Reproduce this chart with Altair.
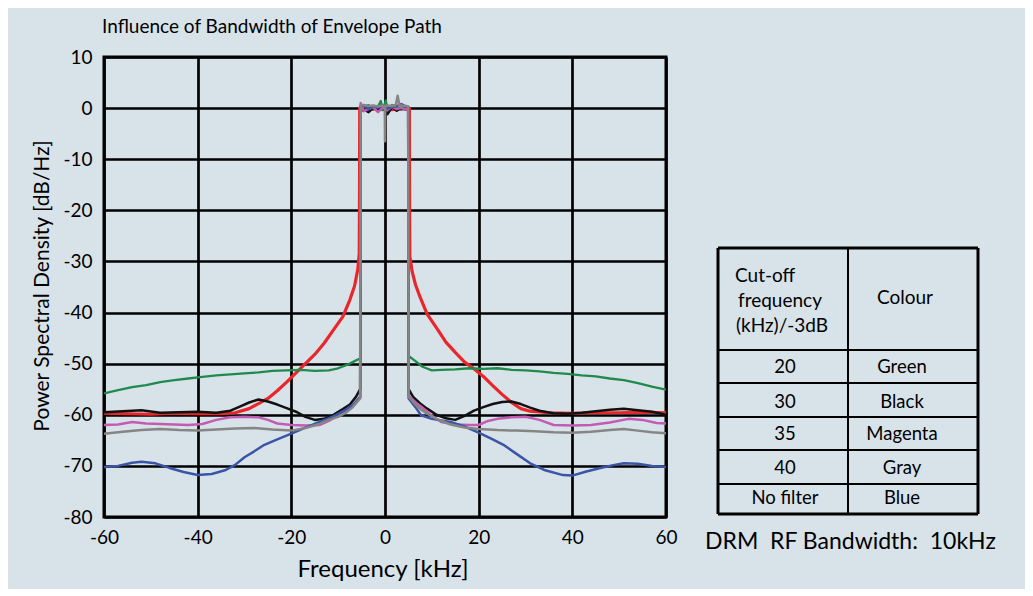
import altair as alt
import pandas as pd

# ---------------- data ----------------
red_f = [-60, -55, -50, -45, -40, -35, -32, -29, -27, -25, -23, -21, -19, -17, -15, -13, -11, -9, -7.5, -6.5, -5.8, -5.5, -5.45,
         -5.4, -4.5, -3.5, -2.5, -1.5, -0.5, 0.5, 1.5, 2.5, 3.5, 4.5, 5.2,
         5.25, 5.3, 5.8, 6.5, 7.5, 9, 11, 13, 15, 17, 19, 21, 23, 25, 27, 29, 31, 35, 40, 45, 50, 55, 60]
red_p = [-59.7, -59.8, -59.9, -59.7, -59.8, -59.8, -59.6, -58.8, -57.8, -56.8, -55.3, -53.6, -51.8, -50.0, -48.2, -46.0, -43.4, -40.8, -37.5, -34.8, -31.5, -28.5, -20.0,
         0.0, -0.2, -0.4, -0.1, -0.3, -0.2, -0.1, -0.3, -0.2, -0.1, -0.2, 0.0,
         -20.0, -29.0, -32.0, -34.5, -37.0, -40.3, -43.0, -45.8, -47.8, -49.7, -51.0, -52.5, -54.3, -56.0, -57.6, -58.8, -59.3, -59.6, -59.7, -59.6, -59.6, -59.5, -59.6]

green_f = [-60, -57, -54, -51, -48, -45, -42, -39, -36, -33, -30, -27, -24, -21, -18, -15, -12, -10, -8, -6.5, -5.3,
           -5.2, -4.5, -3.5, -2.5, -1.5, -0.9, -0.5, 0.2, 0.5, 1.5, 2.5, 3.5, 4.5, 4.95,
           5.05, 6.5, 8, 10, 12, 15, 18, 21, 24, 27, 30, 33, 36, 39, 42, 45, 48, 51, 54, 57, 60]
green_p = [-55.8, -55.2, -54.6, -54.2, -53.6, -53.2, -52.9, -52.6, -52.3, -52.1, -51.9, -51.7, -51.4, -51.3, -51.2, -51.4, -51.3, -50.9, -50.2, -49.5, -49.0,
           0.4, 0.2, 0.6, -0.3, 0.3, 1.4, -0.4, 1.5, -0.5, 0.6, 0.2, -0.3, 0.4, 0.2,
           -48.5, -49.5, -50.6, -51.3, -51.2, -51.1, -50.9, -51.0, -50.9, -51.2, -51.3, -51.5, -51.8, -52.0, -52.3, -52.5, -52.9, -53.2, -53.8, -54.5, -55.1]

black_f = [-60, -56, -52, -48, -44, -40, -36, -33, -31, -29, -27, -25, -23, -21, -19, -17, -15, -13, -11, -9, -7.5, -6.2, -5.3,
           -5.2, -4.5, -3.5, -2.5, -1.5, -0.5, 0.5, 1.5, 2.5, 3.5, 4.5, 4.95,
           5.05, 6, 7.5, 9, 11, 13, 15, 17, 19, 21, 23, 25, 27, 29, 31, 33, 36, 39, 42, 45, 48, 51, 54, 57, 60]
black_p = [-59.5, -59.3, -59.1, -59.6, -59.5, -59.4, -59.6, -59.2, -58.4, -57.6, -57.0, -57.4, -58.0, -58.7, -59.4, -60.4, -61.0, -60.8, -60.0, -58.9, -58.0, -56.5, -55.0,
           -0.6, -0.2, -0.8, 0.1, -0.4, 0.3, -1.2, 0.2, -0.5, 0.1, -0.3, -0.2,
           -55.0, -56.5, -57.8, -58.8, -60.0, -60.7, -61.0, -60.2, -59.2, -58.5, -57.9, -57.5, -57.4, -57.9, -58.6, -59.2, -59.7, -59.8, -59.6, -59.3, -59.0, -58.8, -59.1, -59.4, -60.0]

magenta_f = [-60, -57, -54, -51, -48, -45, -42, -39, -36, -33, -30, -27, -25, -23, -20, -17, -14, -12, -10, -8, -6.5, -5.3,
             -5.2, -4.5, -3.5, -2.5, -1.5, -0.5, 0.5, 1.5, 2.5, 3.5, 4.5, 4.95,
             5.05, 6.5, 8, 10, 12, 15, 18, 20, 22, 24, 27, 30, 33, 36, 40, 44, 48, 52, 55, 58, 60]
magenta_p = [-62.0, -61.9, -61.4, -61.7, -61.8, -61.9, -62.0, -61.8, -61.0, -60.5, -60.4, -60.5, -61.0, -61.7, -62.0, -62.1, -62.0, -61.2, -60.1, -58.9, -57.8, -56.5,
             1.0, -0.6, -0.2, 0.2, -0.8, 0.1, -0.4, 0.3, -0.2, 0.1, -0.3, 0.0,
             -56.2, -57.6, -58.6, -60.2, -61.4, -61.9, -62.0, -62.0, -61.2, -60.8, -60.5, -60.4, -61.0, -62.0, -62.1, -62.0, -61.5, -60.8, -61.0, -61.6, -61.7]

blue_f = [-60, -57, -54, -52, -49, -46, -43, -40, -37, -34, -32, -30, -28, -26, -23, -20, -17, -14, -11, -8.5, -6.5, -5.3,
          -5.2, -4.5, -3.5, -2.5, -1.5, -0.5, 0.5, 1.5, 2.5, 3.5, 4.5, 4.95,
          5.05, 6.5, 7.7, 10, 14, 17, 20, 23, 25.5, 28, 31, 34, 38, 40, 43, 46, 49, 51, 54, 57, 60]
blue_p = [-70.2, -70.0, -69.4, -69.2, -69.5, -70.4, -71.2, -71.8, -71.6, -70.8, -69.8, -68.3, -67.2, -66.0, -64.8, -63.7, -62.5, -61.4, -60.3, -59.1, -57.8, -56.5,
          0.3, 0.5, -0.2, 0.4, 0.1, 0.6, -0.1, 0.2, 0.4, 0.8, 0.3, 0.2,
          -56.8, -58.5, -60.1, -60.8, -61.4, -62.3, -63.5, -64.8, -66.0, -67.6, -69.5, -70.8, -71.8, -71.9, -71.1, -70.4, -69.8, -69.5, -69.6, -70.0, -70.2]

gray_f = [-60, -56, -52, -48, -44, -40, -36, -32, -28, -24, -20, -17, -14, -12, -10, -8.5, -7, -5.3,
          -5.2, -4.5, -3.5, -2.5, -1.5, -0.5, -0.05, 0, 0.05, 0.5, 1.5, 2.3, 2.7, 3.1, 3.5, 4.5, 4.95,
          5.05, 7, 9, 11, 14, 17, 20, 24, 28, 32, 36, 40, 44, 48, 51, 54, 57, 60]
gray_p = [-63.7, -63.3, -63.0, -62.8, -63.0, -63.1, -62.9, -62.7, -62.6, -62.9, -63.1, -62.6, -61.8, -61.0, -60.4, -59.7, -58.6, -56.8,
          0.5, 0.6, 0.4, 0.5, 0.3, 0.5, 0.4, -6.5, 0.4, 0.5, 0.4, 0.6, 2.4, 0.4, 0.5, 0.4, 0.3,
          -56.5, -58.5, -59.8, -60.8, -61.9, -62.5, -62.8, -63.0, -63.1, -63.2, -63.4, -63.5, -63.3, -63.0, -62.8, -63.1, -63.4, -63.6]

x_ticks = [-60, -40, -20, 0, 20, 40, 60]
y_ticks = [10, 0, -10, -20, -30, -40, -50, -60, -70, -80]

title_text = "Influence of Bandwidth of Envelope Path"
x_title = "Frequency [kHz]"
y_title = "Power Spectral Density [dB/Hz]"
table_header_left = ["Cut-off", "frequency", "(kHz)/-3dB"]
table_header_right = "Colour"
table_cutoffs = ["20", "30", "35", "40", "No filter"]
table_colours = ["Green", "Black", "Magenta", "Gray", "Blue"]
footnote = "DRM\u00a0 RF Bandwidth:\u00a0 10kHz"

FONT = "Lato"
W, H = 562, 460

series = [
    ("red", red_f, red_p, "#e8262b", 3.2),
    ("green", green_f, green_p, "#1f8a4c", 2.3),
    ("black", black_f, black_p, "#111111", 2.5),
    ("magenta", magenta_f, magenta_p, "#c25cb2", 2.5),
    ("blue", blue_f, blue_p, "#3b55a6", 2.5),
    ("gray", gray_f, gray_p, "#858585", 2.5),
]

x_enc = alt.X("f:Q", scale=alt.Scale(domain=[-60, 60], nice=False, zero=False),
              axis=alt.Axis(values=x_ticks, title=None))
y_enc = alt.Y("p:Q", scale=alt.Scale(domain=[-80, 10], nice=False, zero=False),
              axis=alt.Axis(values=y_ticks, title=None))

layers = []
for name, fs, ps, col, sw in series:
    df = pd.DataFrame({"f": fs, "p": ps, "s": name})
    layers.append(
        alt.Chart(df).mark_line(color=col, strokeWidth=sw, strokeJoin="round", clip=True)
        .encode(x=x_enc, y=y_enc)
    )


def txt(t, x, y, size, align="center", angle=0):
    kw = dict(font=FONT, fontSize=size, align=align, baseline="middle", color="black")
    if angle:
        kw["angle"] = angle
    return alt.Chart(pd.DataFrame({"t": [t]})).mark_text(**kw).encode(
        text="t:N", x=alt.value(x), y=alt.value(y))


def rule(x1, y1, x2, y2, w):
    return alt.Chart(pd.DataFrame({"a": [0]})).mark_rule(color="black", strokeWidth=w).encode(
        x=alt.value(x1), x2=alt.value(x2), y=alt.value(y1), y2=alt.value(y2))


# title and axis titles
layers.append(txt(title_text, -2, -30, 19, align="left"))
layers.append(txt(x_title, 279, 513, 24))
layers.append(txt(y_title, -61, 229, 21, angle=270))

# table
TL, TR, TM, TT, TB = 614, 874, 744, 191, 457
hlines = [293, 326, 360, 393, 427]
layers.append(rule(TL, TT, TR, TT, 3))
layers.append(rule(TL, TB, TR, TB, 3))
layers.append(rule(TL, TT, TL, TB, 3))
layers.append(rule(TR, TT, TR, TB, 3))
layers.append(rule(TM, TT, TM, TB, 2))
for hy in hlines:
    layers.append(rule(TL, hy, TR, hy, 2))

for t, yy, xx in zip(table_header_left, [219, 244, 269], [631, 634, 632]):
    layers.append(txt(t, xx, yy, 19, align="left"))
layers.append(txt(table_header_right, 801, 241, 19))
row_y = [310, 345, 377, 411, 441]
for a, b, yy in zip(table_cutoffs, table_colours, row_y):
    layers.append(txt(a, 681, yy, 18.5))
    layers.append(txt(b, 798, yy, 18.5))
layers.append(txt(footnote, 601, 485, 23, align="left"))

chart = alt.layer(*layers).properties(
    width=W, height=H,
    autosize=alt.AutoSizeParams(type="none"),
    padding={"left": 96, "top": 49, "right": 359, "bottom": 72},
    background="#d8e3e9",
).configure_view(
    stroke="black", strokeWidth=3, fill="#d8e3e9"
).configure_axis(
    grid=True, gridColor="black", gridWidth=2.7, gridOpacity=1,
    domain=False, ticks=False,
    labelFont=FONT, labelFontSize=19, labelColor="black",
    labelFlush=False, labelOverlap=False,
    labelExpr="toString(datum.value)",
).configure_axisX(labelPadding=11).configure_axisY(labelPadding=12)

chart.save("out.html", embed_options={"renderer": "svg", "actions": False})
